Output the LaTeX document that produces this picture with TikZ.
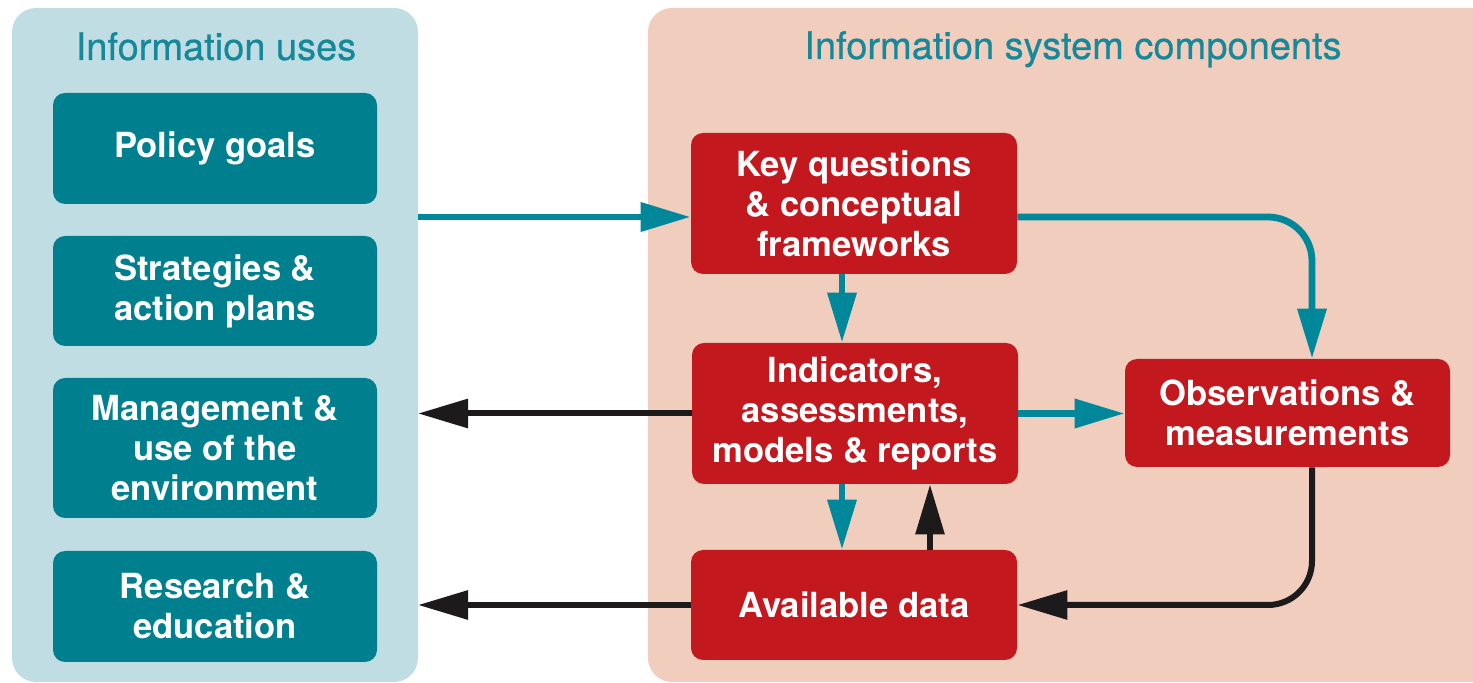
\documentclass[tikz,border=0pt]{standalone}
\usepackage{fontspec}
\setmainfont{TeX Gyre Heros}
\newfontfamily\ttlfont[FakeBold=0.6]{TeX Gyre Heros}
\usetikzlibrary{arrows.meta,calc}
\definecolor{lpanel}{HTML}{C1DDE4}
\definecolor{rpanel}{HTML}{F1CDBE}
\definecolor{tealbox}{HTML}{00808F}
\definecolor{tealtxt}{HTML}{15899A}
\definecolor{tealarr}{HTML}{00889A}
\definecolor{redbox}{HTML}{C4181F}
\definecolor{blackarr}{HTML}{1C1A1A}
\begin{document}
\begin{tikzpicture}[x=0.5pt,y=-0.5pt,
  panel/.style={rounded corners=12pt, inner sep=0pt},
  ttl/.style={text=tealtxt, font=\ttlfont\fontsize{19}{22}\selectfont, anchor=base},
  usebox/.style={fill=tealbox, rounded corners=6pt, text=white, align=center,
    font=\bfseries\fontsize{17.3}{20}\selectfont, minimum width=162pt, inner sep=0pt},
  compbox/.style={fill=redbox, rounded corners=6pt, text=white, align=center,
    font=\bfseries\fontsize{17.3}{20}\selectfont, minimum width=163pt, inner sep=0pt},
  tarrow/.style={draw=tealarr, line width=3.4pt, -{Triangle[length=25pt,width=14pt]}},
  barrow/.style={draw=blackarr, line width=3pt, -{Triangle[length=25pt,width=14pt]}}]
\useasboundingbox (0,0) rectangle (1473,683);
% panels
\fill[lpanel, rounded corners=12pt] (12,8) rectangle (418,682);
\fill[rpanel, rounded corners=12pt] (648,8) rectangle (1520,682);
\coordinate (LPE) at (418,0);
\node[ttl] (t1) at (216,60) {Information uses};
\node[ttl] (t2) at (1073,59) {Information system components};
% left boxes
\node[usebox, minimum height=55.5pt] (pol) at (215,148.5) {Policy goals};
\node[usebox, minimum height=55pt] (str) at (215,291) {Strategies \&\\action plans};
\node[usebox, minimum height=70pt] (man) at (215,448) {Management \&\\use of the\\environment};
\node[usebox, minimum height=55.5pt] (res) at (215,606.5) {Research \&\\education};
% right boxes
\node[compbox, minimum height=70.5pt] (key) at (854,203.5) {Key questions\\\& conceptual\\frameworks};
\node[compbox, minimum height=70.5pt] (ind) at (855,413.5) {Indicators,\\assessments,\\models \& reports};
\node[compbox, minimum height=54pt, minimum width=162.5pt] (obs) at (1287.5,413) {Observations \&\\measurements};
\node[compbox, minimum height=55pt] (ava) at (854,605) {Available data};
% connectors
\coordinate (pin) at (418,217);
\draw[tarrow] (pin) -- (pin -| key.west);
\coordinate (k1) at ($(key.east)+(0,13.5)$);
\coordinate (obsT) at ($(obs.north)+(24.5,0)$);
\draw[tarrow, rounded corners=22pt] (k1) -| (obsT);
\coordinate (k2) at ($(key.south)+(-12,0)$);
\draw[tarrow] (k2) -- (k2 |- ind.north);
\coordinate (i2) at ($(ind.south)+(-13,0)$);
\draw[tarrow] (i2) -- (i2 |- ava.north);
\coordinate (a2) at ($(ava.north)+(76,0)$);
\draw[barrow] (a2) -- (a2 |- ind.south);
\draw[tarrow] (ind.east) -- (ind.east -| obs.west);
\coordinate (obsB) at ($(obs.south)+(24.5,0)$);
\draw[barrow, rounded corners=22pt] (obsB) |- (ava.east);
\draw[barrow] (ind.west) -- (ind.west -| LPE);
\draw[barrow] (ava.west) -- (ava.west -| LPE);
\end{tikzpicture}
\end{document}
